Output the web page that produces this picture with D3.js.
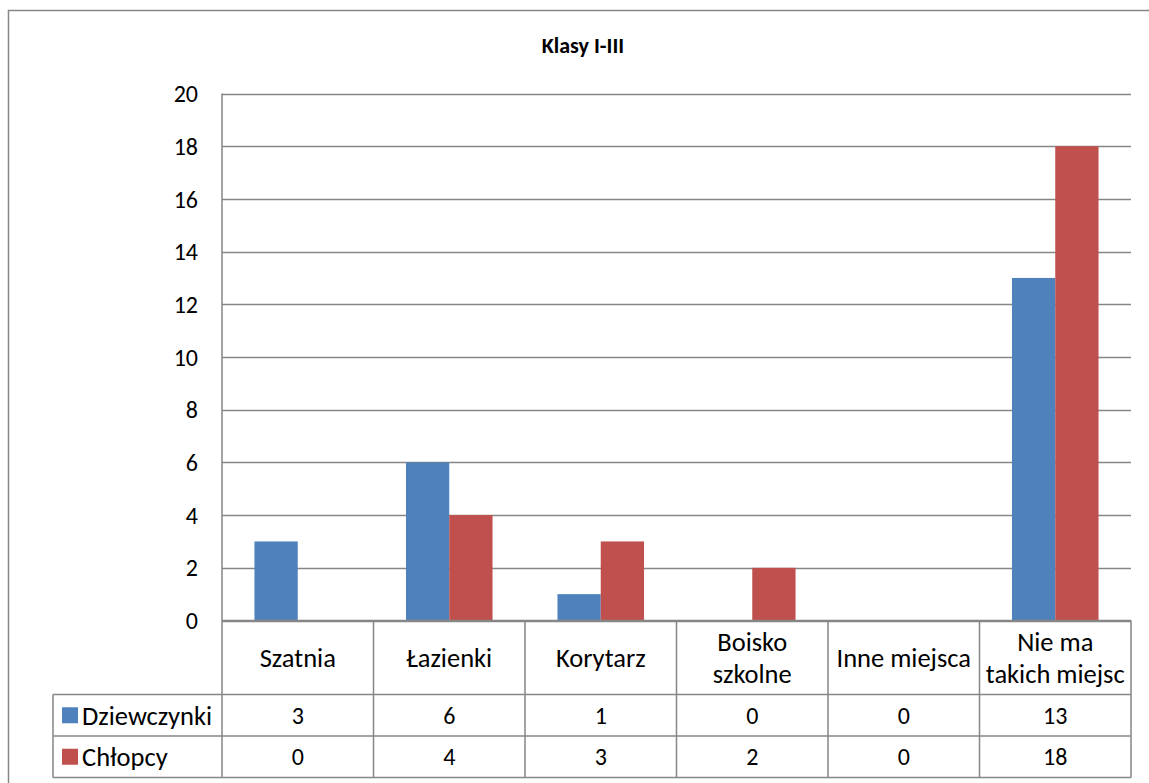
<!DOCTYPE html>
<html>
<head>
<meta charset="utf-8">
<script src="https://cdn.jsdelivr.net/npm/d3@7"></script>
<style>
body { margin: 0; background: #fff; }
svg text { font-family: Carlito, Calibri, Lato, "Open Sans", sans-serif; fill: #000; }
</style>
</head>
<body>
<div id="chart"></div>
<script>
// Klasy I-III chart
///

const categories = ['Szatnia', 'Łazienki', 'Korytarz', 'Boisko szkolne', 'Inne miejsca', 'Nie ma takich miejsc'];
const catLines = [['Szatnia'], ['Łazienki'], ['Korytarz'], ['Boisko', 'szkolne'], ['Inne miejsca'], ['Nie ma', 'takich miejsc']];
const seriesNames = ['Dziewczynki', 'Chłopcy'];
const dziewczynki = [3, 6, 1, 0, 0, 13];
const chlopcy = [0, 4, 3, 2, 0, 18];
const yTicks = [0, 2, 4, 6, 8, 10, 12, 14, 16, 18, 20];
const colors = ['#4F81BD', '#C0504D'];

const W = 1149, H = 783;
const pLeft = 222, pRight = 1131, pTop = 93.5, pBottom = 620.5;
const row1 = 694.5, row2 = 736, row3 = 777.5, legLeft = 53;
const lineCol = '#868686';
const fsNum = '24px', fsTxt = '26.5px';

let svg = d3.select('#chart').append('svg')
	.attr('width', W).attr('height', H);

// outer frame
svg.append('rect')
	.attr('x', 8.5).attr('y', 10.5).attr('width', 1160).attr('height', 800)
	.attr('fill', 'none').attr('stroke', lineCol).attr('stroke-width', 1.5);

svg.append('text')
	.attr('x', 583).attr('y', 53)
	.attr('text-anchor', 'middle')
	.style('font-size', '22px').style('font-weight', 'bold')
	.text('Klasy I-III');

const x = d3.scaleBand().domain(categories).range([pLeft, pRight]);
const xs = d3.scaleBand().domain(seriesNames).range([0, x.bandwidth()]).paddingInner(0).paddingOuter(0.75);
const y = d3.scaleLinear().domain([0, 20]).range([pBottom, pTop]);

// gridlines
svg.append('g').selectAll('line')
	.data(yTicks)
	.enter().append('line')
	.attr('x1', pLeft).attr('x2', pRight)
	.attr('y1', d => Math.round(y(d)) + 0.5).attr('y2', d => Math.round(y(d)) + 0.5)
	.attr('stroke', lineCol).attr('stroke-width', 1.3);

// y labels
svg.append('g').selectAll('text')
	.data(yTicks)
	.enter().append('text')
	.attr('x', 198).attr('y', d => y(d))
	.attr('dy', '0.36em')
	.attr('text-anchor', 'end')
	.style('font-size', fsNum)
	.text(d => d);

// bars
const series = [dziewczynki, chlopcy];
series.forEach(function(vals, si) {
	svg.append('g').selectAll('rect')
		.data(vals)
		.enter().append('rect')
		.attr('x', (d, i) => x(categories[i]) + xs(seriesNames[si]))
		.attr('width', xs.bandwidth())
		.attr('y', d => y(d))
		.attr('height', d => y(0) - y(d))
		.attr('fill', colors[si]);
});

// data table
let tbl = svg.append('g').attr('stroke', lineCol).attr('stroke-width', 1.5);
tbl.append('line').attr('x1', pLeft).attr('x2', pLeft).attr('y1', pTop).attr('y2', row3);
tbl.append('line').attr('x1', pLeft).attr('x2', pRight).attr('y1', pBottom).attr('y2', pBottom);
[row1, row2, row3].forEach(function(ry) {
	tbl.append('line').attr('x1', legLeft).attr('x2', pRight).attr('y1', ry).attr('y2', ry);
});
tbl.append('line').attr('x1', legLeft).attr('x2', legLeft).attr('y1', row1).attr('y2', row3);
categories.forEach(function(c) {
	let xr = x(c) + x.bandwidth();
	tbl.append('line').attr('x1', xr).attr('x2', xr).attr('y1', pBottom).attr('y2', row3);
});

// category labels
categories.forEach(function(c, i) {
	let lines = catLines[i];
	let cy = (pBottom + row1) / 2;
	lines.forEach(function(t, li) {
		svg.append('text')
			.attr('x', x(c) + x.bandwidth() / 2)
			.attr('y', cy + (li - (lines.length - 1) / 2) * 32)
			.attr('dy', '0.36em')
			.attr('text-anchor', 'middle')
			.style('font-size', fsTxt)
			.text(t);
	});
});

// table values + legend
const rowY = [(row1 + row2) / 2, (row2 + row3) / 2];
series.forEach(function(vals, si) {
	svg.append('rect')
		.attr('x', 62).attr('y', rowY[si] - 8)
		.attr('width', 16).attr('height', 16)
		.attr('fill', colors[si]);
	svg.append('text')
		.attr('x', 82).attr('y', rowY[si])
		.attr('dy', '0.36em')
		.style('font-size', fsTxt)
		.text(seriesNames[si]);
	svg.append('g').selectAll('text')
		.data(vals)
		.enter().append('text')
		.attr('x', (d, i) => x(categories[i]) + x.bandwidth() / 2)
		.attr('y', rowY[si])
		.attr('dy', '0.36em')
		.attr('text-anchor', 'middle')
		.style('font-size', fsNum)
		.text(d => d);
});
</script>
</body>
</html>
